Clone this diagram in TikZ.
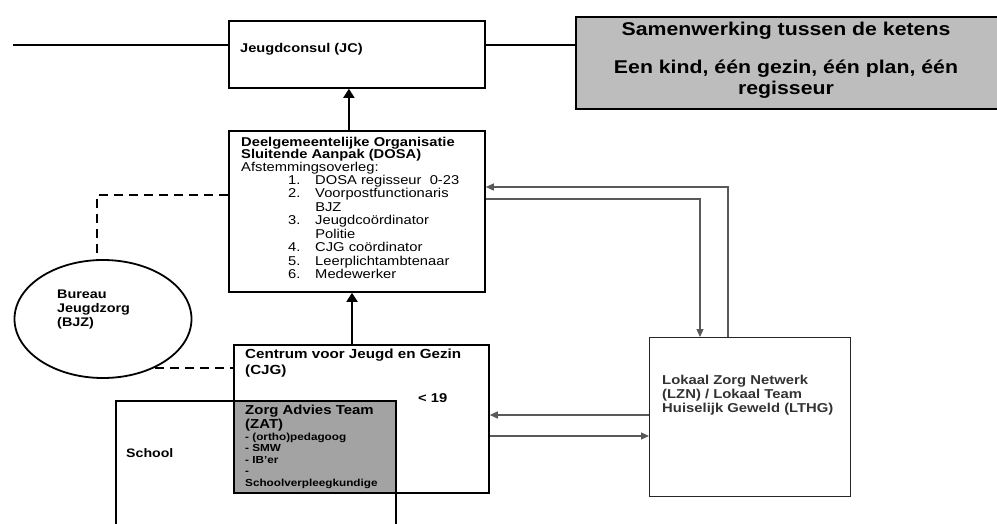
\documentclass[tikz,border=0pt]{standalone}
\usepackage{fontspec}
\setmainfont{Liberation Sans}
\usetikzlibrary{shapes.geometric,calc,arrows.meta,positioning}
\definecolor{hdrgray}{gray}{0.74}
\definecolor{zatgray}{gray}{0.64}
\tikzstyle{box} = [draw, line width=1.8pt, anchor=north west, inner sep=0pt]
\tikzstyle{txt} = [anchor=base west, inner sep=0pt, align=left, xscale=1.15]
\tikzstyle{arrow} = [draw, -{Triangle[length=9pt,width=11pt]}, line width=1.8pt]
\tikzstyle{link} = [draw, -{Triangle[length=8pt,width=7pt]}, line width=1.3pt, black!65]
\tikzstyle{dashline} = [draw, line width=2pt, dash pattern=on 9pt off 6pt]
\newcommand{\fs}[2]{\fontsize{#1}{#2}\selectfont}
\newcommand{\nr}[1]{\makebox[23.5pt][l]{#1}}
\newcommand{\nrx}{\hspace*{23.5pt}}

\begin{document}
\begin{tikzpicture}[x=1pt,y=-1pt]
  \useasboundingbox (0,0) rectangle (997,523);
  % boxes
  \node[box, minimum width=256pt, minimum height=67pt] (jc) at (228,20) {};
  \node[box, fill=hdrgray, line width=1.5pt, minimum width=430pt, minimum height=92pt] (hdr) at (575,16) {};
  \node[box, minimum width=256pt, minimum height=161pt] (dosa) at (228,130) {};
  \node[fill=zatgray, anchor=north west, inner sep=0pt, minimum width=162pt, minimum height=92pt] (zat) at (233,400) {};
  \node[box, minimum width=280pt, minimum height=140pt] (school) at (115,400) {};
  \node[box, minimum width=255pt, minimum height=148pt] (cjg) at (233,344) {};
  \node[box, line width=1.4pt, draw=black!85, minimum width=201pt, minimum height=159pt] (lzn) at (649,337) {};
  \node[draw, ellipse, line width=1.8pt, inner sep=0pt, minimum width=177pt, minimum height=118pt] (bjz) at (103,319) {};

  % texts (multi-line nodes sit on the baseline of their last line)
  \node[txt, font=\fs{12.7}{14.5}\bfseries] (jct) at (240,52) {Jeugdconsul (JC)};
  \node[anchor=base, inner sep=0pt, xscale=1.15, font=\fs{18.5}{21}\bfseries] (hdrt) at (786,35) {Samenwerking tussen de ketens};
  \node[anchor=base, align=center, inner sep=0pt, xscale=1.15, font=\fs{18.5}{21}\bfseries] (hdrm) at (786,94) {Een kind, één gezin, één plan, één\\regisseur};
  \node[txt, font=\fs{12.8}{12.7}] (dosat) at (241,171.4) {\textbf{Deelgemeentelijke Organisatie}\\\textbf{Sluitende Aanpak (DOSA)}\\Afstemmingsoverleg:};
  \node[txt, font=\fs{12.8}{13.5}] (dosal) at (288,278.5) {\nr{1.}DOSA regisseur\ \ 0-23\\\nr{2.}Voorpostfunctionaris\\\nrx BJZ\\\nr{3.}Jeugdcoördinator\\\nrx Politie\\\nr{4.}CJG coördinator\\\nr{5.}Leerplichtambtenaar\\\nr{6.}Medewerker};
  \node[txt, font=\fs{12.5}{14}\bfseries] (bjzt) at (57,326) {Bureau\\Jeugdzorg\\(BJZ)};
  \node[txt, font=\fs{13.2}{16.5}\bfseries] (cjgt) at (245,374.5) {Centrum voor Jeugd en Gezin\\(CJG)};
  \node[txt, font=\fs{12.8}{14}\bfseries] (age) at (418,402) {< 19};
  \node[txt, font=\fs{13}{14}\bfseries] (zatt) at (245,428) {Zorg Advies Team\\(ZAT)};
  \node[txt, font=\fs{10.2}{11.6}\bfseries] (zatl) at (245,486.4) {- (ortho)pedagoog\\- SMW\\- IB'er\\-\\Schoolverpleegkundige};
  \node[txt, font=\fs{12.3}{14}\bfseries] (schoolt) at (126,457) {School};
  \node[txt, text=black!80, font=\fs{12.9}{14}\bfseries] (lznt) at (662,412.5) {Lokaal Zorg Netwerk\\(LZN) / Lokaal Team\\Huiselijk Geweld (LTHG)};

  % connectors
  \draw[arrow] ([xshift=-8pt]dosa.north) -- ([xshift=-8pt]jc.south);
  \coordinate (cjgup) at (352,0);
  \draw[arrow] (cjg.north -| cjgup) -- (dosa.south -| cjgup);
  \coordinate (rule) at (13,45);
  \draw[line width=1.5pt] (rule) -- (jc.west |- rule);
  \draw[line width=1.5pt] (jc.east |- rule) -- (hdr.west |- rule);
  \coordinate (dl) at (97,195);
  \draw[dashline] (dosa.west |- dl) -| (bjz.96);
  \draw[dashline] (bjz.-43) -- (cjg.west |- bjz.-43);
  \coordinate (up) at (728,187);
  \coordinate (dn) at (700,199);
  \draw[link] (lzn.north -| up) |- (dosa.east |- up);
  \draw[link] (dosa.east |- dn) -| (lzn.north -| dn);
  \coordinate (back) at (0,415);
  \coordinate (fwd) at (0,436);
  \draw[link] (lzn.west |- back) -- (cjg.east |- back);
  \draw[link] (cjg.east |- fwd) -- (lzn.west |- fwd);
\end{tikzpicture}
\end{document}
